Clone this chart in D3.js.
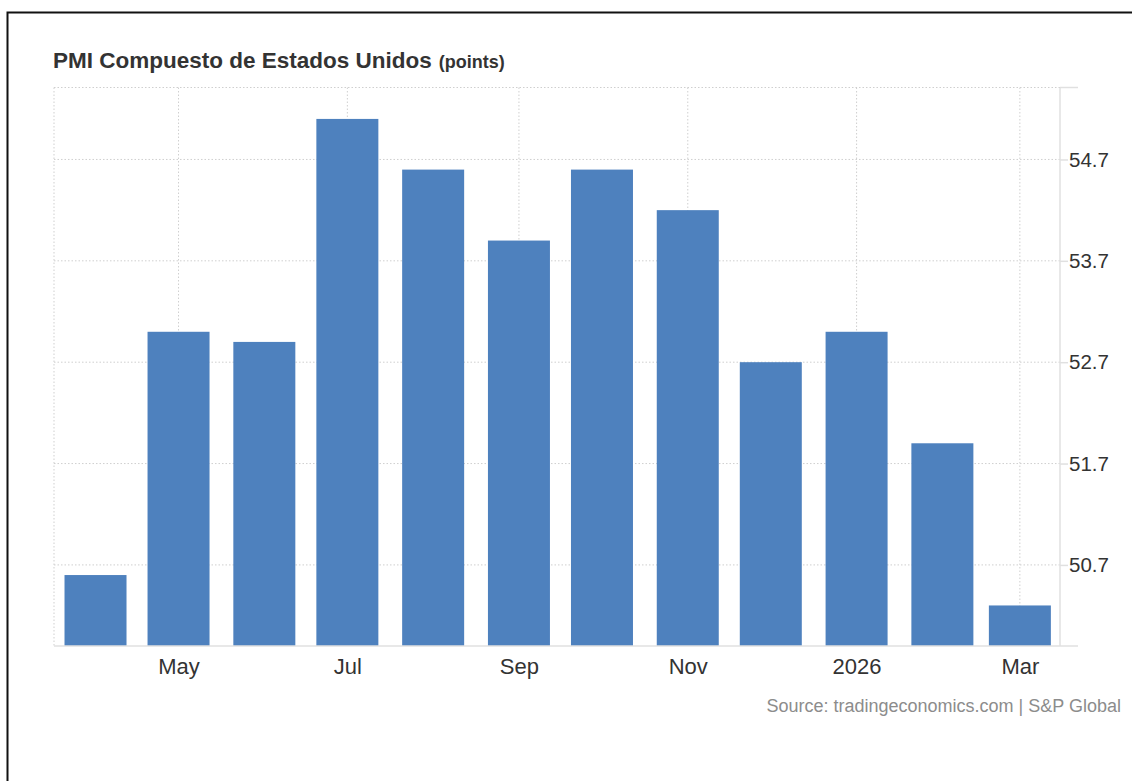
<!DOCTYPE html>
<html>
<head>
<meta charset="utf-8">
<script src="https://cdn.jsdelivr.net/npm/d3@7"></script>
<style>
  html, body { margin: 0; padding: 0; background: #fff; }
  svg { display: block; font-family: "Liberation Sans", Arial, sans-serif; }
</style>
</head>
<body>
<svg id="chart" width="1132" height="781"></svg>
<script>
const months = ["2025-04-01","2025-05-01","2025-06-01","2025-07-01","2025-08-01","2025-09-01","2025-10-01","2025-11-01","2025-12-01","2026-01-01","2026-02-01","2026-03-01"];
const values = [50.6, 53.0, 52.9, 55.1, 54.6, 53.9, 54.6, 54.2, 52.7, 53.0, 51.9, 50.3];
const xTickMonths = ["2025-05-01","2025-07-01","2025-09-01","2025-11-01","2026-01-01","2026-03-01"];
const xTickLabels = ["May","Jul","Sep","Nov","2026","Mar"];
const xDomain = ["2025-03-17T00:00", "2026-03-15T12:00"];
const yTicks = [50.7, 51.7, 52.7, 53.7, 54.7];
const yDomain = [49.9, 55.41];
const title = "PMI Compuesto de Estados Unidos";
const unit = "(points)";
const source = "Source: tradingeconomics.com | S&P Global";

(function () {
const svg = d3.select("#chart");
const pL = 54, pR = 1060, pT = 87.5, pB = 646, barW = 62;
const parse = s => new Date(s.length === 10 ? s + "T00:00" : s);

// outer frame (left + top edges)
svg.append("path").attr("d", `M7.5,781 V12.5 H1132`).attr("fill", "none").attr("stroke", "#111").attr("stroke-width", 2);

const x = d3.scaleTime().domain(xDomain.map(parse)).range([pL, pR]);
const y = d3.scaleLinear().domain(yDomain).range([pB, pT]);

// title
const t = svg.append("text").attr("x", 53).attr("y", 68).attr("fill", "#333").attr("font-weight", "bold");
t.append("tspan").attr("font-size", 22.5).text(title);
t.append("tspan").attr("font-size", 18).attr("dx", 7).text(unit);

// grid
const grid = svg.append("g").attr("stroke", "#cfcfcf").attr("stroke-dasharray", "1.5,2").attr("stroke-width", 1);
grid.selectAll(".hg").data(yTicks.concat([yDomain[1]])).join("line")
  .attr("x1", pL).attr("x2", pR).attr("y1", d => y(d)).attr("y2", d => y(d));
grid.selectAll(".vg").data(xTickMonths).join("line")
  .attr("x1", d => x(parse(d))).attr("x2", d => x(parse(d)))
  .attr("y1", pT).attr("y2", pB);
grid.append("line").attr("x1", pL).attr("x2", pL).attr("y1", pT).attr("y2", pB);

// bars
svg.append("g").selectAll("rect").data(months).join("rect")
  .attr("x", d => x(parse(d)) - barW / 2).attr("width", barW)
  .attr("y", (d, i) => y(values[i])).attr("height", (d, i) => pB - y(values[i]))
  .attr("fill", "#4e81be");

// right axis
const yAxis = svg.append("g").attr("transform", `translate(${pR},0)`)
  .call(d3.axisRight(y).tickValues(yTicks).tickSize(8).tickPadding(1).tickFormat(d3.format(".1f")));
yAxis.select(".domain").remove();
yAxis.selectAll(".tick line").attr("stroke", "#e0e0e0").attr("stroke-width", 1.5);
yAxis.selectAll(".tick text").attr("font-size", 20.5).attr("fill", "#333").attr("font-family", "Liberation Sans, Arial, sans-serif");
svg.append("line").attr("x1", pR).attr("x2", pR).attr("y1", pT).attr("y2", pB).attr("stroke", "#e0e0e0").attr("stroke-width", 1.5);
svg.append("line").attr("x1", pR).attr("x2", 1078).attr("y1", pT).attr("y2", pT).attr("stroke", "#e0e0e0").attr("stroke-width", 1.5);

// bottom axis
const xAxis = svg.append("g").attr("transform", `translate(0,${pB})`)
  .call(d3.axisBottom(x).tickValues(xTickMonths.map(parse)).tickSize(0).tickPadding(12)
    .tickFormat((d, i) => xTickLabels[i]));
xAxis.select(".domain").remove();
xAxis.selectAll(".tick text").attr("font-size", 22).attr("fill", "#333").attr("font-family", "Liberation Sans, Arial, sans-serif");
svg.append("line").attr("x1", pL).attr("x2", 1078).attr("y1", pB).attr("y2", pB).attr("stroke", "#e0e0e0").attr("stroke-width", 1.5);

// source
svg.append("text").attr("x", 1121).attr("y", 712).attr("text-anchor", "end")
  .attr("font-size", 18).attr("fill", "#8c8c8c").text(source);
})();
</script>
</body>
</html>
